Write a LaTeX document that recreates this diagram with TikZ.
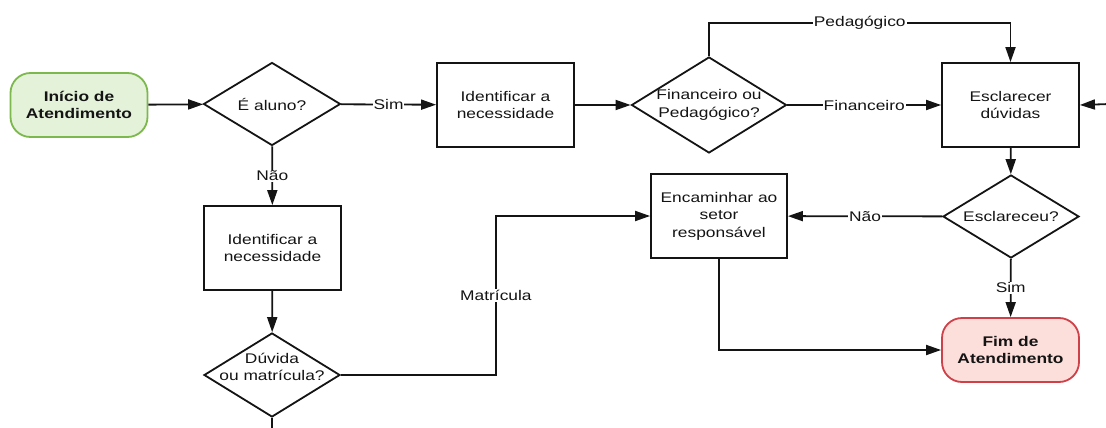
\documentclass[tikz,border=0pt]{standalone}
\usepackage{fontspec}
\setmainfont{Liberation Sans}[FakeStretch=1.24]
\usetikzlibrary{shapes.geometric,arrows.meta}
\definecolor{startfill}{RGB}{228,242,218}
\definecolor{startline}{RGB}{124,184,76}
\definecolor{endfill}{RGB}{252,222,218}
\definecolor{endline}{RGB}{208,64,72}
\definecolor{ink}{RGB}{20,20,20}
\begin{document}
\begin{tikzpicture}[x=1pt,y=-1pt,
  font=\fontsize{14}{17.5}\selectfont, text=ink,
  box/.style={draw=ink, line width=1.8pt, minimum width=137pt, minimum height=84pt, inner sep=0pt, align=center},
  dia/.style={draw=ink, line width=1.8pt, shape=diamond, inner sep=0pt},
  term/.style={line width=1.8pt, rounded corners=20pt, minimum width=137pt, minimum height=64pt, inner sep=0pt, align=center, font=\fontsize{14}{17.5}\selectfont\bfseries},
  arr/.style={draw=ink, line width=1.8pt, -{Triangle[length=15pt,width=10pt]}},
  ln/.style={draw=ink, line width=1.8pt},
  lbl/.style={fill=white, inner sep=1pt}]
\useasboundingbox (0,0) rectangle (1106,428);
\clip (0,0) rectangle (1106,428);

\node[term, draw=startline, fill=startfill] (start) at (79,105) {Início de\\Atendimento};
\node[dia, minimum width=137pt, minimum height=83pt, label={[align=center]center:{É aluno?}}] (aluno) at (272,104) {};
\node[box] (id1) at (505.5,105) {Identificar a\\necessidade};
\node[dia, minimum width=155pt, minimum height=96pt, label={[align=center]center:{Financeiro ou\\Pedagógico?}}] (finped) at (709,105) {};
\node[box] (escl) at (1010.5,105) {Esclarecer\\dúvidas};
\node[dia, minimum width=136pt, minimum height=83pt, label={[align=center]center:{Esclareceu?}}] (esclq) at (1011,216.5) {};
\node[box, minimum width=136pt] (enc) at (719,216) {Encaminhar ao\\setor\\responsável};
\node[term, draw=endline, fill=endfill] (fim) at (1010.5,350) {Fim de\\Atendimento};
\node[box] (id2) at (272.5,248) {Identificar a\\necessidade};
\node[dia, minimum width=136pt, minimum height=84pt, label={[align=center,yshift=8pt]center:{Dúvida\\ou matrícula?}}] (duv) at (272,375) {};
\node (duvlbl) at (905,434) {Dúvida};

\coordinate (pc) at (1010.5,23);
\coordinate (rin) at (1110,104);
\coordinate (bot) at (272,440);

\draw[arr] (start) -- (aluno);
\draw[arr] (aluno) -- node[lbl]{Sim} (id1);
\draw[arr] (id1) -- (finped);
\draw[arr] (finped.north) |- node[lbl,pos=0.75]{Pedagógico} (pc) -- (escl.north);
\draw[arr] (finped) -- node[lbl]{Financeiro} (escl);
\draw[arr] (rin) -- (escl.east);
\draw[arr] (escl) -- (esclq);
\draw[arr] (esclq) -- node[lbl]{Não} (enc);
\draw[arr] (esclq) -- node[lbl]{Sim} (fim);
\draw[arr] (enc.south) |- (fim.west);
\draw[arr] (aluno) -- node[lbl]{Não} (id2);
\draw[arr] (id2) -- (duv);
\draw[arr] (duv.east) -- ++(155,0) -- node[lbl]{Matrícula} ++(0,-159) |- (enc.west);
\draw[ln] (duv.south) -- (bot);
\end{tikzpicture}
\end{document}
